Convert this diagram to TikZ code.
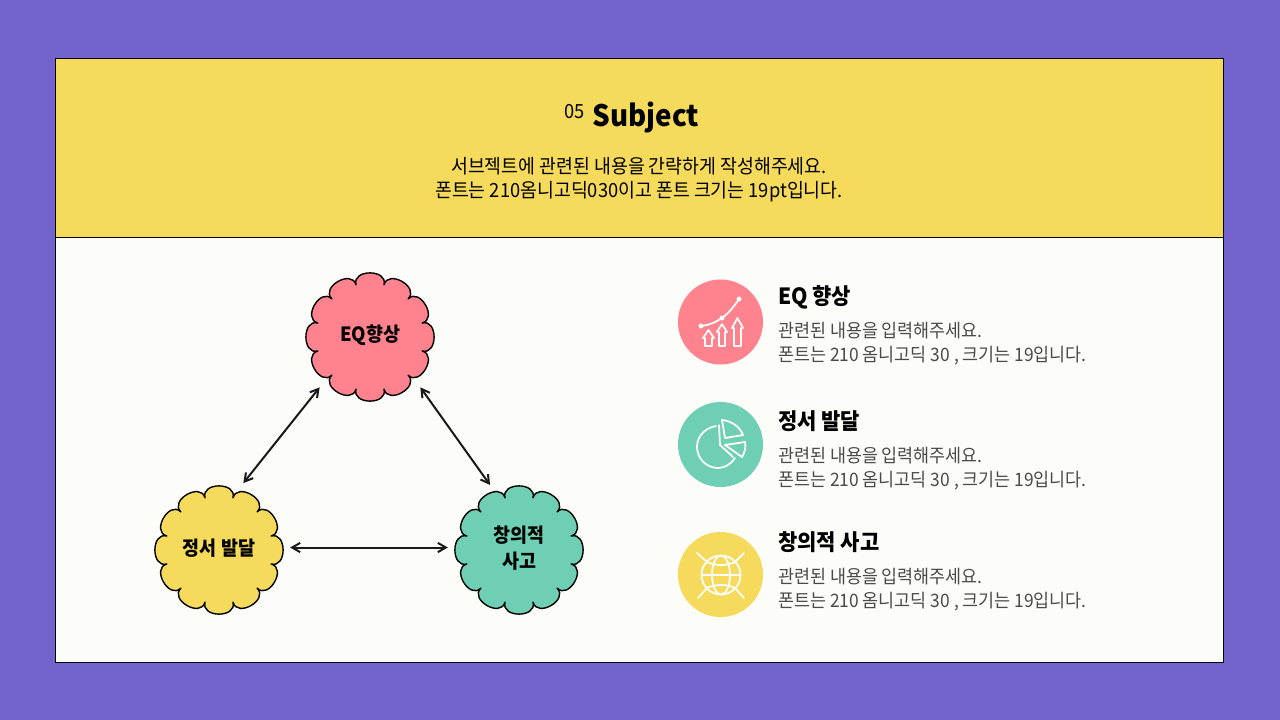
\documentclass[tikz,border=0pt]{standalone}
\usepackage{fontspec}
\setmainfont{Noto Sans CJK KR}
\newfontfamily\kr[FakeStretch=0.94]{Noto Sans CJK KR}
\newfontfamily\krt[FakeStretch=0.94]{Noto Sans CJK KR}
\usetikzlibrary{arrows.meta,calc}
\definecolor{bgp}{HTML}{7363CC}
\definecolor{yel}{HTML}{F5DA5B}
\definecolor{pnk}{HTML}{FF828F}
\definecolor{grn}{HTML}{6FCFB5}
\definecolor{pap}{HTML}{FCFCF8}
\definecolor{gry}{HTML}{4A4A4A}
\tikzset{
 x=1pt,y=-1pt,
 panel/.style={draw=black,line width=1pt},
 hub/.style={circle,minimum size=142pt,inner sep=0pt},
 hubt/.style={inner sep=0pt,align=center,yshift=1.5pt,font=\kr\bfseries\fontsize{19.6}{26}\selectfont,text=black},
 link/.style={draw=black!90,line width=2pt,{Straight Barb[length=8pt,width=12pt,angle'=60]}-{Straight Barb[length=8pt,width=12pt,angle'=60]}},
 blob/.style={draw=black,line width=1.4pt,line join=round},
 head/.style={font=\kr\bfseries\fontsize{22.3}{26}\selectfont,anchor=base west,text=black,inner sep=0pt},
 desc/.style={font=\kr\fontsize{18.5}{24}\selectfont,anchor=north west,align=left,text=gry,inner sep=0pt},
 ic/.style={draw=pap,line width=1.8pt,line cap=round,line join=round},
 disc/.style={circle,minimum size=85pt,inner sep=0pt},
}
\newcommand{\blobshape}[3]{%
 \path[blob,fill=#3] ($(#1,#2)+(-15:54)$)
 \foreach \a in {0,30,...,330}{
   .. controls ($(#1,#2)+({\a-15}:70.5)$) and ($(#1,#2)+({\a+15}:70.5)$) .. ($(#1,#2)+({\a+15}:54)$)
 } -- cycle;
}
\begin{document}
\begin{tikzpicture}
\useasboundingbox (0,0) rectangle (1280,720);
\fill[bgp] (0,0) rectangle (1280,720);
\path[panel,fill=pap] (55.5,237) rectangle (1223.5,662);
\path[panel,fill=yel] (55.5,58.5) rectangle (1223.5,237);
% header
\node[inner sep=0pt,anchor=base west,font=\kr\fontsize{19.5}{20}\selectfont] (num) at (564,118) {05};
\node[inner sep=0pt,anchor=base west,font=\krt\bfseries\fontsize{29.5}{34}\selectfont] (subj) at (592.5,126) {Subject};
\node[inner sep=0pt,align=center,font=\kr\fontsize{19.5}{24.5}\selectfont,anchor=north] (intro) at (639,157) {서브젝트에 관련된 내용을 간략하게 작성해주세요.\\폰트는 210옴니고딕030이고 폰트 크기는 19pt입니다.};
% blobs
\blobshape{370}{337}{pnk}
\blobshape{219}{550}{yel}
\blobshape{519}{550}{grn}
\node[hub,label={[hubt]center:EQ향상}] (eq) at (370,337) {};
\node[hub,label={[hubt]center:정서 발달}] (em) at (219,550) {};
\node[hub,label={[hubt]center:창의적\\사고}] (cr) at (519,550) {};
\draw[link] (eq.225) -- (em.70);
\draw[link] (eq.315) -- (cr.114);
\draw[link] (em.2) -- (cr.178);
% discs
\node[disc,fill=pnk] (d1) at (720.5,322) {};
\node[disc,fill=grn] (d2) at (720.5,444.5) {};
\node[disc,fill=yel] (d3) at (720.5,574.5) {};
% icon 1
\begin{scope}[shift={(670,270)}]
 \draw[ic] (31,56) .. controls (40,55) and (46,52) .. (52,48) .. controls (60,42) and (65,35) .. (69,29);
 \fill[pap] (31,56) circle (2.5) (52,48) circle (2.5) (69,29) circle (2.5);
 \draw[ic] (35,76) -- (35,68) -- (33,68) -- (38.5,60) -- (44,68) -- (42,68) -- (42,76) -- cycle;
 \draw[ic] (49,76) -- (49,62) -- (47,62) -- (52,54) -- (57,62) -- (55,62) -- (55,76) -- cycle;
 \draw[ic] (64,76) -- (64,58) -- (62,58) -- (67.5,48) -- (73,58) -- (71,58) -- (71,76) -- cycle;
\end{scope}
% icon 2
\begin{scope}[shift={(670,395)}]
 \draw[ic] (46,31) .. controls (35,33) and (27,41) .. (27,52) .. controls (27,64) and (37,73) .. (48,73) .. controls (55,73) and (61,69) .. (65,63);
 \draw[ic] (49,30) -- (50,50) -- (63,62);
 \draw[ic] (52,25) -- (55,43) -- (73,40) .. controls (70,32) and (62,26) .. (52,25) -- cycle;
 \draw[ic] (55,50) -- (75,47) .. controls (76,52) and (75,57) .. (72,62) -- cycle;
\end{scope}
% icon 3
\begin{scope}[shift={(670,525)}]
 \def\cx{51}\def\cy{50}
 \draw[ic] (\cx,\cy) circle (19.5);
 \draw[ic] (\cx,\cy) ellipse (9 and 19.5);
 \draw[ic] (31.5,\cy) -- (70.5,\cy);
 \draw[ic] (37,37) .. controls (45,41) and (57,41) .. (65,37) (37,63) .. controls (45,59) and (57,59) .. (65,63);
 \draw[ic] (27,28) -- (37,37) (74,28) -- (65,37) (28,73) -- (37,63) (74,73) -- (65,63);
\end{scope}
% text
\node[head] (h1) at (778,304) {EQ 향상};
\node[desc] (t1) at (778,321.5) {관련된 내용을 입력해주세요.\\폰트는 210 옴니고딕 30 , 크기는 19입니다.};
\node[head] (h2) at (778,429) {정서 발달};
\node[desc] (t2) at (778,446.5) {관련된 내용을 입력해주세요.\\폰트는 210 옴니고딕 30 , 크기는 19입니다.};
\node[head] (h3) at (778,550) {창의적 사고};
\node[desc] (t3) at (778,567.5) {관련된 내용을 입력해주세요.\\폰트는 210 옴니고딕 30 , 크기는 19입니다.};
\end{tikzpicture}
\end{document}
